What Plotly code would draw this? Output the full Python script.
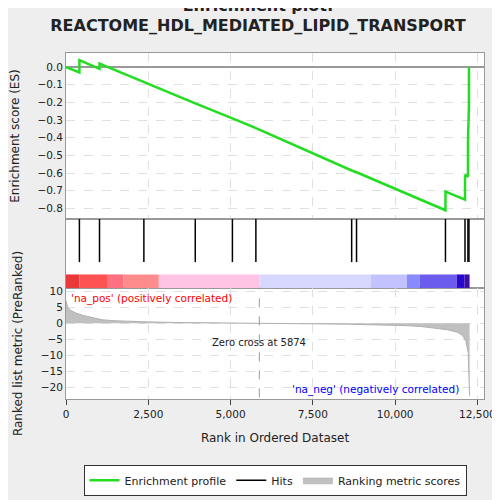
import plotly.graph_objects as go

# enrichment score curve (rank, ES)
es_rank = [0, 407, 408, 1018, 1019, 2366, 3928, 5056, 5769, 8679, 8827, 11529, 11530, 12123, 12124, 12212, 12213, 12242, 12243]
es_val = [0.0, -0.03, 0.04, -0.01, 0.02, -0.085, -0.205, -0.29, -0.345, -0.585, -0.595, -0.81, -0.705, -0.75, -0.61, -0.62, -0.42, -0.22, 0.0]
hits = [407, 1018, 2366, 3928, 5056, 5769, 8679, 8827, 11529, 12123, 12212, 12242]

# ranked list metric
m_rank = [0, 50, 150, 300, 500, 800, 1100, 1500, 2000, 2500, 3500, 4500, 5874, 7000, 8500, 9500, 10300, 10800, 11200, 11600, 11900, 12050, 12150, 12220, 12262]
m_val = [7.0, 5.0, 4.0, 3.2, 2.5, 1.8, 1.1, 0.8, 0.6, 0.45, 0.25, 0.1, 0.0, -0.1, -0.25, -0.45, -0.7, -1.0, -1.4, -2.0, -2.8, -3.8, -5.5, -9.0, -22.5]

# colour bar segments (rank start, rank end, colour)
bar_start = [0, 410, 1270, 1750, 2820, 5880, 9260, 10360, 10740, 11870, 12110]
bar_end = [410, 1270, 1750, 2820, 5880, 9260, 10360, 10740, 11870, 12110, 12262]
bar_col = ["#e83838", "#ff5252", "#ff7080", "#ff8c8c", "#ffc4e4", "#d8d8ff", "#c2c2ff",
           "#8a8aff", "#6c5cee", "#2808cc", "#3c10a0"]

fig = go.Figure()
fig.add_trace(go.Scatter(x=es_rank, y=es_val, mode="lines", line=dict(color="#22dd22", width=2.5),
                         name="Enrichment profile", xaxis="x", yaxis="y"))
hx, hy = [], []
for h in hits:
    hx += [h, h, None]
    hy += [0, 1, None]
fig.add_trace(go.Scatter(x=hx, y=hy, mode="lines", line=dict(color="black", width=1.5),
                         name="Hits", xaxis="x2", yaxis="y2"))
fig.add_trace(go.Scatter(x=m_rank, y=m_val, mode="lines", fill="tozeroy", fillcolor="#c0c0c0",
                         line=dict(color="#b0b0b0", width=1), name="Ranking metric scores",
                         xaxis="x3", yaxis="y3"))
for s, e, c in zip(bar_start, bar_end, bar_col):
    fig.add_shape(type="rect", xref="x2", yref="paper", x0=s, x1=e, y0=0.321, y1=0.360,
                  fillcolor=c, line=dict(width=0))
fig.add_shape(type="line", xref="x3", yref="y3", x0=5874, x1=5874, y0=-23, y1=11,
              line=dict(color="#999999", width=1, dash="dash"))

ax = dict(range=[0, 12700], showgrid=True, gridcolor="#e0e0e0", griddash="dash", zeroline=False,
          showline=True, linecolor="#999", mirror=True, tickvals=[0, 2500, 5000, 7500, 10000, 12500])
ay = dict(automargin=False, showline=True, linecolor="#999", mirror=True, tickfont=dict(size=10.5))
fig.update_layout(
    width=500, height=500, paper_bgcolor="#eeeeee", plot_bgcolor="white",
    margin=dict(l=58, r=21, t=45, b=63),
    font=dict(family="DejaVu Sans", size=11, color="#222"),
    title=dict(text="<b>Enrichment plot:<br>REACTOME_HDL_MEDIATED_LIPID_TRANSPORT</b>",
               x=0.5, y=0.995, yanchor="top", font=dict(size=16)),
    xaxis=dict(ax, domain=[0, 1], anchor="y", showticklabels=False),
    yaxis=dict(ay, domain=[0.520, 1], range=[-0.86, 0.08], showgrid=True, gridcolor="#e0e0e0",
               griddash="dash", zeroline=True, zerolinecolor="#999",
               dtick=0.1, tickformat=".1f", title=dict(text="Enrichment score (ES)", font=dict(size=12))),
    xaxis2=dict(ax, domain=[0, 1], anchor="y2", showticklabels=False, showgrid=False),
    yaxis2=dict(ay, domain=[0.321, 0.520], range=[-0.6, 1], showticklabels=False, showgrid=False,
                zeroline=False),
    xaxis3=dict(ax, domain=[0, 1], anchor="y3", title=dict(text="Rank in Ordered Dataset", font=dict(size=12)),
                tickformat=",", ticks="outside", tickfont=dict(size=10.5)),
    yaxis3=dict(ay, domain=[0, 0.321], range=[-23.5, 11], showgrid=True, gridcolor="#e0e0e0", griddash="dash",
                zeroline=False, tickvals=[10, 5, 0, -5, -10, -15, -20],
                title=dict(text="Ranked list metric (PreRanked)", font=dict(size=12))),
    legend=dict(orientation="h", x=0.5, xanchor="center", y=-0.19, yanchor="top",
                bgcolor="white", bordercolor="#333", borderwidth=1, font=dict(size=11)),
    annotations=[
        dict(x=100, y=10.5, xref="x3", yref="y3", text="'na_pos' (positively correlated)", showarrow=False,
             xanchor="left", yanchor="top", font=dict(color="red", size=10.5)),
        dict(x=5874, y=-6, xref="x3", yref="y3", text="Zero cross at 5874", showarrow=False,
             font=dict(size=10)),
        dict(x=12000, y=-20.5, xref="x3", yref="y3", text="'na_neg' (negatively correlated)",
             showarrow=False, xanchor="right", font=dict(color="blue", size=10.5)),
    ],
)
fig.write_html("out.html")
